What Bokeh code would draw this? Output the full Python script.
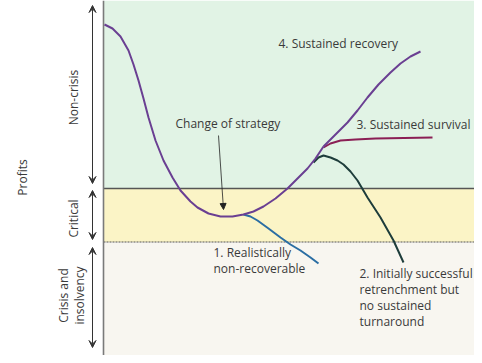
from bokeh.plotting import figure
from bokeh.models import Arrow, VeeHead, NormalHead
from bokeh.core.properties import value
from bokeh.embed import file_html
from bokeh.resources import INLINE

# Conceptual turnaround diagram: time (x) vs profits (y), arbitrary units
main_t = [1, 9, 17, 25, 30, 35, 40, 45, 52, 60, 69, 77, 87, 94, 105, 117, 129, 140, 150, 160, 172, 184, 194, 204, 212, 220]
main_p = [339, 335, 327, 313, 299, 283, 265, 246, 223, 203, 186, 173, 162, 156, 150, 147, 147, 149, 152, 157, 165, 175, 185, 195, 205, 217]

recovery_t = [220, 232, 244, 254, 264, 275, 287, 297, 307, 317]
recovery_p = [217, 229, 241, 253, 266, 279, 291, 300, 307, 312]

survival_t = [220, 227, 237, 252, 272, 329]
survival_p = [216, 220, 223, 224, 225, 226]

retrench_t = [210, 215, 220, 227, 234, 240, 247, 254, 264, 277, 290, 300]
retrench_p = [201, 206, 208, 206, 203, 199, 192, 183, 166, 146, 123, 101]

nonrec_t = [140, 147, 154, 165, 177, 187, 197, 207, 215]
nonrec_p = [149, 147, 143, 135, 126, 119, 113, 106, 100]

# zone boundaries (profit levels)
crisis_top = 121.5
critical_top = 175
chart_top = 363
t_end = 379

font = value("Open Sans")
tc = "#3a3a3a"

p = figure(width=474, height=355, x_range=(-103, 371), y_range=(8, 363),
           output_backend="svg", toolbar_location=None,
           min_border=0, outline_line_color=None)
p.axis.visible = False
p.grid.visible = False
p.background_fill_color = "white"
p.border_fill_color = "white"

# zone backgrounds
p.quad(left=[0], right=[t_end], bottom=[0], top=[crisis_top], fill_color="#f8f6f0", line_color=None)
p.quad(left=[0], right=[t_end], bottom=[crisis_top], top=[critical_top], fill_color="#fbf4c6", line_color=None)
p.quad(left=[0], right=[t_end], bottom=[critical_top], top=[chart_top], fill_color="#e1f3e5", line_color=None)

# boundaries
p.line([0, t_end], [critical_top, critical_top], line_color="#555555", line_width=1.3)
p.line([0, t_end], [crisis_top, crisis_top], line_color="#555555", line_width=1.2, line_dash="2 1")
p.line([0, 0], [0, chart_top], line_color="#7a7a7a", line_width=1.6)

# curves
p.line(nonrec_t, nonrec_p, line_color="#2b6ea3", line_width=2, line_join="round")
p.line(retrench_t, retrench_p, line_color="#1e3d3b", line_width=2, line_join="round")
p.line(survival_t, survival_p, line_color="#8b1f55", line_width=2, line_join="round")
p.line(recovery_t, recovery_p, line_color="#6a3f92", line_width=2, line_join="round")
p.line(main_t, main_p, line_color="#6a3f92", line_width=2, line_join="round")

# change of strategy arrow
p.add_layout(Arrow(x_start=115, y_start=228, x_end=120, y_end=154, line_width=0.8, line_color="#222222",
                   end=NormalHead(size=6, fill_color="#222222", line_color="#222222")))

# left zone arrows
for y0, y1 in [(180, 358), (124, 173), (16, 116)]:
    p.add_layout(Arrow(x_start=-11, y_start=y0, x_end=-11, y_end=y1, line_width=1, line_color="#333333",
                       start=VeeHead(size=7, fill_color="#333333", line_color="#333333"),
                       end=VeeHead(size=7, fill_color="#333333", line_color="#333333")))

# rotated labels
p.text(x=[-81], y=[186], text=["Profits"], angle=1.5708, text_align="center", text_baseline="middle",
       text_font=font, text_font_size="12px", text_color=tc)
p.text(x=[-30, -30, -40, -24], y=[266, 145, 68, 68], text=["Non-crisis", "Critical", "Crisis and", "insolvency"],
       angle=1.5708, text_align="center", text_baseline="middle",
       text_font=font, text_font_size="12px", text_color=tc)

# curve labels
lab_x = [175, 253, 72, 110, 110, 256, 256, 256, 256]
lab_y = [320, 239, 240, 111, 95, 90, 74, 58, 42]
lab_t = ["4. Sustained recovery", "3. Sustained survival", "Change of strategy",
         "1. Realistically", "non-recoverable",
         "2. Initially successful", "retrenchment but", "no sustained", "turnaround"]
p.text(x=lab_x, y=lab_y, text=lab_t, text_align="left", text_baseline="middle",
       text_font=font, text_font_size="12px", text_color=tc)

open("out.html", "w").write(file_html(p, INLINE))
